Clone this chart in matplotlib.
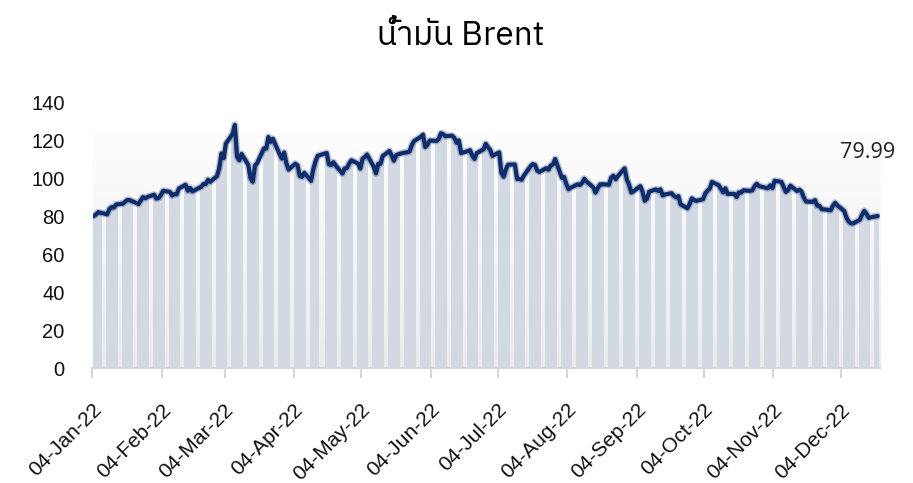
import numpy as np
import pandas as pd
import matplotlib
matplotlib.use("Agg")
import matplotlib.pyplot as plt
import matplotlib.dates as mdates
from matplotlib import font_manager as fm
from matplotlib.ft2font import FT2Font
from matplotlib.colors import LinearSegmentedColormap
from matplotlib.transforms import ScaledTranslation

# ---------------- data ----------------
title_text = "น้ำมัน Brent"
last_label = "79.99"
start_date = "2022-01-04"
end_date = "2022-12-20"
holidays = ["2022-04-15"]
tick_start = "2022-01-04"
n_ticks = 12
y_ticks = [0, 20, 40, 60, 80, 100, 120, 140]

jan = [80.00, 80.80, 81.99, 81.75, 80.87, 83.72, 84.67, 84.47, 86.06, 86.48,
       87.51, 88.44, 88.38, 87.89, 86.27, 88.20, 89.96, 89.34, 90.03, 91.21]
feb = [89.16, 89.47, 91.11, 93.27, 92.69, 90.78, 91.55, 91.41, 94.44, 96.48,
       93.28, 94.81, 92.97, 93.54, 95.39, 96.84, 96.84, 99.08, 97.93, 100.99]
mar = [104.97, 112.93, 110.46, 118.11, 123.21, 127.98, 111.14, 109.33, 112.67,
       106.90, 99.91, 98.02, 106.64, 107.93, 115.62, 115.48, 121.60, 119.03,
       120.65, 112.48, 110.23, 113.45, 107.91]
apr = [104.39, 107.53, 106.64, 101.07, 100.58, 102.78, 98.48, 104.64, 108.78,
       111.70, 113.16, 107.25, 106.80, 108.33, 106.65, 102.32, 104.99, 105.32,
       107.59, 109.34]
may = [107.58, 104.97, 110.14, 111.00, 112.39, 105.94, 102.46, 107.51, 107.45,
       111.55, 114.24, 111.93, 109.11, 112.04, 112.55, 113.42, 113.56, 114.03,
       117.40, 119.43, 121.67, 122.84]
jun = [116.29, 117.61, 119.72, 119.51, 120.57, 123.58, 123.07, 122.01, 122.27,
       121.17, 118.51, 119.81, 113.12, 114.13, 114.65, 111.74, 110.05, 113.12,
       115.09, 117.98, 116.26, 114.81]
jul = [111.63, 113.50, 102.77, 100.69, 104.65, 107.02, 107.10, 99.49, 99.57,
       99.10, 101.16, 106.27, 107.35, 106.92, 103.86, 103.20, 105.15, 104.40,
       106.62, 107.14, 110.01]
aug = [100.03, 100.54, 96.78, 94.12, 94.92, 96.65, 96.31, 97.40, 99.60, 98.15,
       95.10, 92.34, 94.65, 96.59, 96.72, 96.48, 100.22, 101.22, 99.34, 100.99,
       105.09, 99.31, 96.49]
sep = [92.36, 93.02, 95.74, 92.83, 88.00, 89.15, 92.84, 94.00, 93.17, 94.10,
       90.84, 91.35, 92.00, 90.62, 89.83, 90.46, 86.15, 84.06, 86.27, 89.32,
       88.49, 87.96]
oct_ = [88.86, 91.80, 93.37, 94.42, 97.92, 96.19, 94.29, 92.45, 94.57, 91.63,
        91.62, 90.03, 92.41, 92.38, 93.50, 93.26, 93.52, 95.69, 96.96, 95.77,
        94.83]
nov = [94.65, 96.16, 94.67, 98.57, 97.92, 95.36, 92.65, 93.67, 95.99, 93.14,
       93.86, 92.86, 89.78, 87.62, 87.45, 88.36, 85.41, 85.34, 83.63, 83.19,
       83.03, 85.43]
dec = [86.97, 85.57, 82.68, 79.35, 77.17, 76.15, 76.10, 77.99, 80.68, 82.70,
       81.21, 79.04, 79.80, 79.99]

values = np.array(jan + feb + mar + apr + may + jun + jul + aug + sep + oct_ + nov + dec)
dates = pd.bdate_range(start_date, end_date)
dates = dates[~dates.isin(pd.to_datetime(holidays))]
assert len(dates) == len(values), (len(dates), len(values))

# ---------------- fonts ----------------
def find_thai_font():
    cands = []
    for f in fm.findSystemFonts():
        try:
            ft = FT2Font(f)
            cm = ft.get_charmap()
            if 0x0E19 in cm and 0x0E49 in cm and 0x0E33 in cm and 0x0042 in cm:
                cands.append(f)
        except Exception:
            pass
    if not cands:
        return None
    def score(p):
        n = p.lower()
        s = 0
        if "bold" in n or "italic" in n or "oblique" in n:
            s += 10
        if "sans" not in n:
            s += 2
        return s
    cands.sort(key=score)
    fm.fontManager.addfont(cands[0])
    return fm.FontProperties(fname=cands[0]).get_name()

thai_name = find_thai_font()
title_family = [thai_name, "DejaVu Sans"] if thai_name else ["DejaVu Sans"]

plt.rcParams["font.family"] = ["Liberation Sans", "DejaVu Sans"]

# ---------------- figure ----------------
W, H = 913, 483
fig = plt.figure(figsize=(W / 100, H / 100), dpi=100)
left_px, right_px, bottom_px, top_px = 92.5, 880, 368, 102
ax = fig.add_axes([left_px / W, 1 - bottom_px / H,
                   (right_px - left_px) / W, (bottom_px - top_px) / H])

xnum = mdates.date2num(dates)
x0 = mdates.date2num(pd.Timestamp(start_date))
x1 = x0 + (right_px - left_px) / 2.24

# background gradient of plot area
grad_cmap = LinearSegmentedColormap.from_list("g", ["#ebebeb", "#fdfdfd"])
ax.imshow(np.linspace(0, 1, 256)[:, None], origin="lower", aspect="auto",
          extent=[x0, x1, 0, 124], cmap=grad_cmap, zorder=0)

ax.bar(xnum, values, width=1.2, align="edge", color="#d2d9e3",
       linewidth=0, zorder=1)
ax.plot(xnum + 0.55, values, color="#0f2c6b", lw=5.0, alpha=0.28,
        solid_joinstyle="round", solid_capstyle="round", zorder=2)
ax.plot(xnum + 0.55, values, color="#0f2c6b", lw=3.0,
        solid_joinstyle="round", solid_capstyle="round", zorder=3)

ax.set_xlim(x0, x1)
ax.set_ylim(0, 140)

tick_dates = pd.date_range(tick_start, periods=n_ticks, freq=pd.DateOffset(months=1))
ax.set_xticks(mdates.date2num(tick_dates))
ax.set_xticklabels([d.strftime("%d-%b-%y") for d in tick_dates],
                   rotation=45, ha="right", va="center",
                   rotation_mode="anchor", fontsize=15, color="#111111")
ax.tick_params(axis="x", length=7, width=1.5, color="#d6d6d6", pad=21)
offset = ScaledTranslation(6 / 100, 0, fig.dpi_scale_trans)
for lab in ax.get_xticklabels():
    lab.set_transform(lab.get_transform() + offset)

ax.set_yticks(y_ticks)
ax.set_yticklabels([str(v) for v in y_ticks], fontsize=14.5, color="#111111")
ax.tick_params(axis="y", length=0, pad=20)

for s in ["top", "right", "left"]:
    ax.spines[s].set_visible(False)
ax.spines["bottom"].set_color("#d6d6d6")
ax.spines["bottom"].set_linewidth(1.5)
ax.set_facecolor("white")

ax.annotate(last_label, xy=(xnum[-1] + 0.55, values[-1]),
            xytext=(-10, 64), textcoords="offset pixels",
            ha="center", va="center", fontsize=15.5, color="#222222",
            family=["Open Sans", "DejaVu Sans"])

fig.text(461 / W, 1 - 36 / H, title_text, ha="center", va="center",
         fontsize=24, color="black", family=title_family)

fig.savefig("out.png", dpi=100)
